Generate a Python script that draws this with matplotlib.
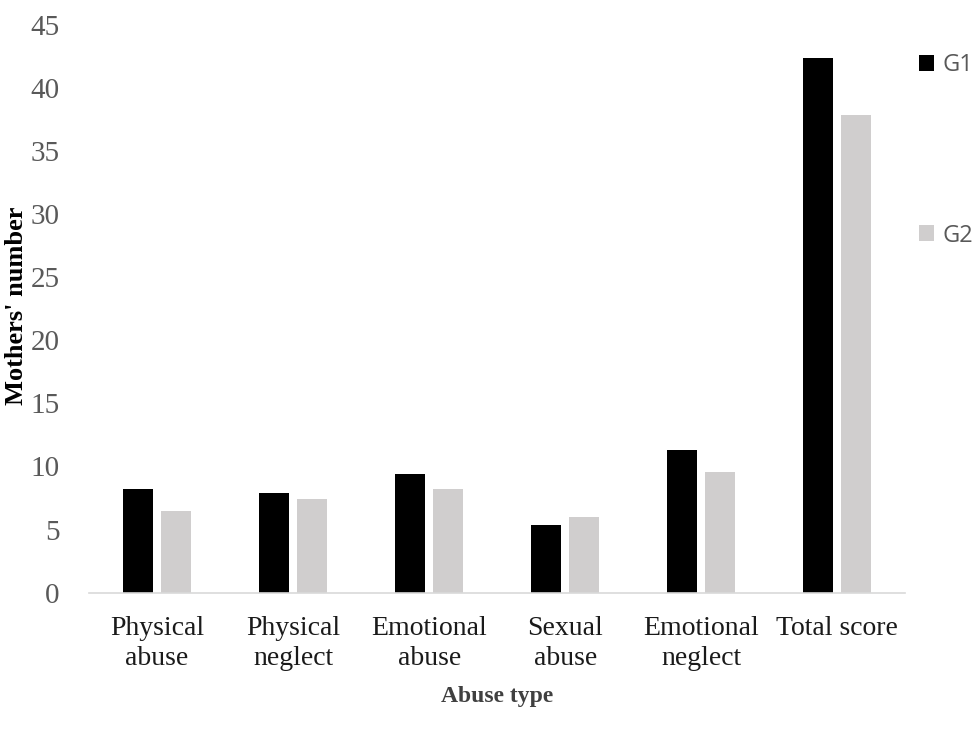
import numpy as np
import matplotlib
matplotlib.use('Agg')
import matplotlib.pyplot as plt

# values
categories = ['Physical\nabuse', 'Physical\nneglect', 'Emotional\nabuse',
              'Sexual\nabuse', 'Emotional\nneglect', 'Total score']
g1 = [8.2, 7.9, 9.4, 5.4, 11.3, 42.4]
g2 = [6.5, 7.4, 8.2, 6.0, 9.6, 37.9]
yticks = [0, 5, 10, 15, 20, 25, 30, 35, 40, 45]

serif = ['Liberation Serif', 'DejaVu Serif']

fig = plt.figure(figsize=(9.73, 7.38), dpi=100)
ax = fig.add_axes([0.0915, 0.197, 0.839, 0.769])

x = np.arange(len(categories))
w = 0.22
ax.bar(x - 0.14, g1, w, color='black', label='G1')
ax.bar(x + 0.14, g2, w, color='#d0cece', label='G2')

ax.set_xlim(-0.5, len(categories) - 0.5)
ax.set_ylim(0, 45)
ax.set_yticks(yticks)
ax.set_xticks(x)
ax.set_xticklabels(categories, fontsize=20, family=serif, color='#1a1a1a',
                   linespacing=1.25)
for lab in ax.get_yticklabels():
    lab.set_family(serif)
    lab.set_fontsize(21)
    lab.set_color('#595959')
ax.tick_params(axis='both', length=0)
ax.tick_params(axis='x', pad=17)
ax.tick_params(axis='y', pad=21)

for s in ['top', 'right', 'left']:
    ax.spines[s].set_visible(False)
ax.spines['bottom'].set_color('#d9d9d9')
ax.spines['bottom'].set_linewidth(1.2)

ax.set_ylabel("Mothers' number", fontsize=19, family=serif, fontweight='bold')
ax.yaxis.set_label_coords(-0.075, 0.505)
fig.text(0.511, 0.056, 'Abuse type', fontsize=17, family=serif,
         fontweight='bold', color='#404040', ha='center', va='center')

ax.legend(loc='upper left', bbox_to_anchor=(0.944, 0.928),
          bbox_transform=fig.transFigure, frameon=False,
          prop={'family': 'Open Sans', 'size': 17}, labelcolor='#595959',
          handlelength=0.65, handleheight=0.65, handletextpad=0.35,
          labelspacing=6.2, borderpad=0, borderaxespad=0)

fig.savefig('out.png', dpi=100)
